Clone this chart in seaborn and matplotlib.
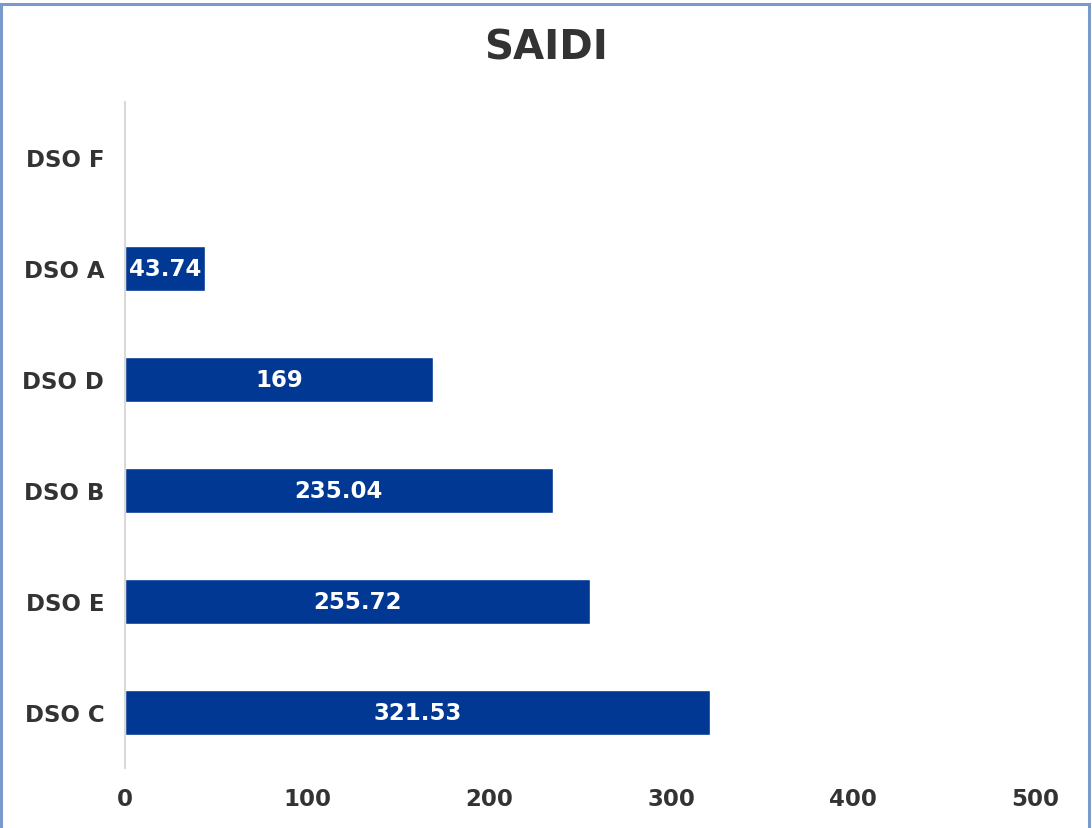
import matplotlib
matplotlib.use("Agg")
import matplotlib.pyplot as plt
import seaborn as sns
import pandas as pd
from matplotlib.patches import Rectangle

categories = ["DSO F", "DSO A", "DSO D", "DSO B", "DSO E", "DSO C"]
values = [0.0, 43.74, 169, 235.04, 255.72, 321.53]
value_labels = ["", "43.74", "169", "235.04", "255.72", "321.53"]
x_ticks = [0, 100, 200, 300, 400, 500]

sns.set_theme(style="white")
plt.rcParams["font.family"] = ["DejaVu Sans"]

df = pd.DataFrame({"dso": categories, "saidi": values})

fig = plt.figure(figsize=(10.92, 8.29), dpi=100)
ax = fig.add_axes([0.1145, 0.0724, 0.8333, 0.8034])

sns.barplot(data=df, y="dso", x="saidi", order=categories, orient="h",
            color="#003893", saturation=1, width=0.4, ax=ax)

for c in ax.containers:
    ax.bar_label(c, labels=value_labels, label_type="center", color="white",
                 fontsize=16.5, fontweight="bold")

ax.set_xlim(0, 500)
ax.set_xticks(x_ticks)
ax.set_xticklabels([str(t) for t in x_ticks])
ax.set_xlabel("")
ax.set_ylabel("")
for s in ["top", "right", "bottom"]:
    ax.spines[s].set_visible(False)
ax.spines["left"].set_color("#d9d9d9")
ax.spines["left"].set_linewidth(1.5)
ax.tick_params(axis="both", length=0, labelsize=16.5, labelcolor="#333333")
ax.tick_params(axis="y", pad=15)
ax.tick_params(axis="x", pad=14)
for lab in ax.get_xticklabels() + ax.get_yticklabels():
    lab.set_fontweight("bold")
ax.grid(False)

fig.text(0.5, 0.942, "SAIDI", ha="center", va="center", fontsize=29,
         fontweight="bold", color="#333333")

fig.patches.append(Rectangle((0.001, -0.01), 0.996, 1.004, transform=fig.transFigure,
                             fill=False, edgecolor="#7a9acc", linewidth=2.2))

fig.savefig("out.png", dpi=100, facecolor="white")
